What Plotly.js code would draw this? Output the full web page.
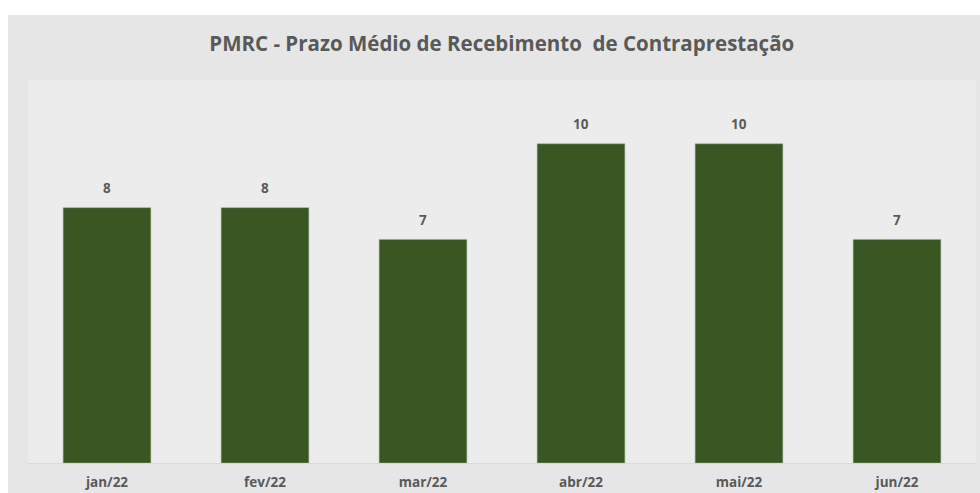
<!DOCTYPE html>
<html><head><meta charset="utf-8">
<script src="https://cdn.plot.ly/plotly-3.0.1.min.js"></script>
<style>
html,body{margin:0;padding:0;background:#ffffff;width:980px;height:493px;overflow:hidden}
#chart{position:absolute;left:8px;top:15px;width:972px;height:478px}
</style></head>
<body><div id="chart"></div>
<script>
const categories = ["jan/22","fev/22","mar/22","abr/22","mai/22","jun/22"];
const pmrc = [8, 8, 7, 10, 10, 7];
const titleText = "PMRC - Prazo Médio de Recebimento  de Contraprestação";

const trace = {
  type: "bar", x: categories, y: pmrc,
  marker: {color: "#385723", line: {color: "#9aa88f", width: 0.5}},
  hoverinfo: "skip"
};
const labels = categories.map((c, i) => ({
  x: c, y: pmrc[i], xref: "x", yref: "y", text: String(pmrc[i]),
  showarrow: false, yanchor: "bottom", yshift: 9,
  font: {family: "Open Sans, sans-serif", size: 13.5, color: "#595959", weight: "bold"}
}));
const layout = {
  width: 972, height: 478,
  margin: {l: 20, r: 4, t: 65, b: 30},
  paper_bgcolor: "#e6e6e6", plot_bgcolor: "#ececec",
  bargap: 0.445, showlegend: false,
  annotations: labels,
  title: {text: titleText, x: 0.508, xanchor: "center", y: 1 - 29/478, yanchor: "middle",
    font: {family: "Open Sans, sans-serif", size: 20.5, color: "#595959", weight: "bold"}},
  xaxis: {showline: true, linecolor: "#d9d9d9", linewidth: 1, ticks: "outside", ticklen: 7,
    tickcolor: "rgba(0,0,0,0)", showgrid: false,
    tickfont: {family: "Open Sans, sans-serif", size: 13.5, color: "#595959", weight: "bold"}},
  yaxis: {range: [0, 12], visible: false, showgrid: false, zeroline: false}
};
Plotly.newPlot("chart", [trace], layout, {displayModeBar: false, staticPlot: true});
</script></body></html>
